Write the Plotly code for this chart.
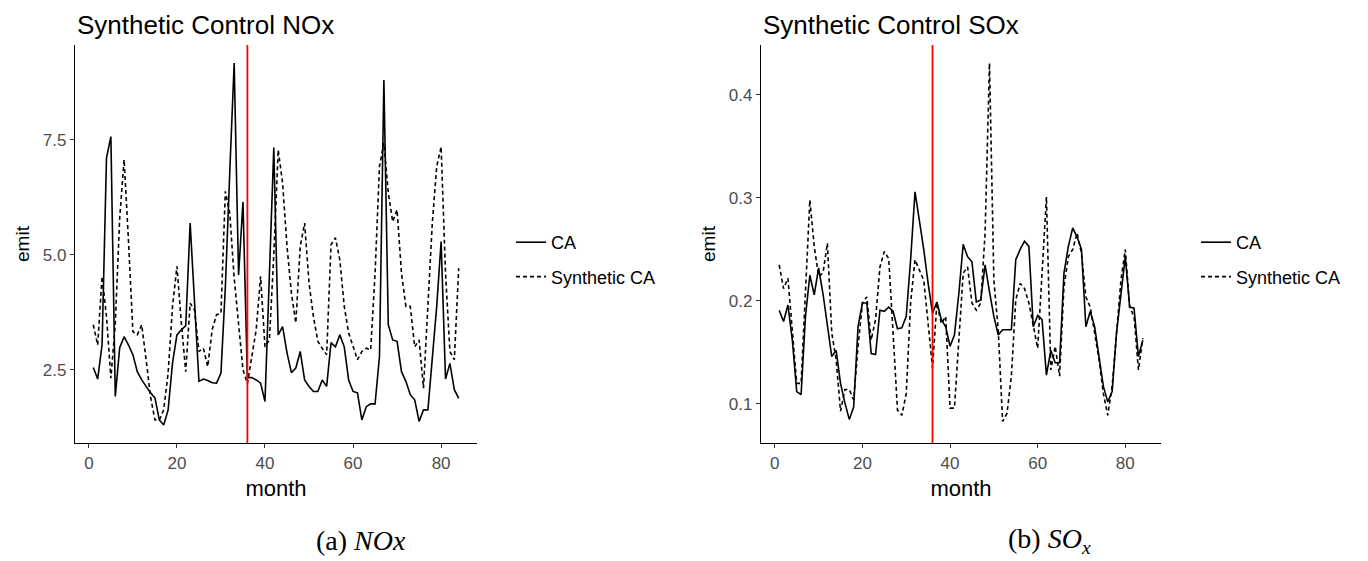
import plotly.graph_objects as go

months = list(range(1, 85))

nox_ca = [2.55, 2.30, 3.05, 7.10, 7.57, 1.92, 2.98, 3.22, 3.04, 2.83,
          2.46, 2.28, 2.14, 2.00, 1.89, 1.41, 1.30, 1.63, 2.65, 3.26,
          3.37, 3.46, 5.69, 3.88, 2.25, 2.30, 2.27, 2.22, 2.21, 2.43,
          4.30, 6.80, 9.17, 4.56, 6.15, 2.33, 2.33, 2.28, 2.21, 1.81,
          4.50, 7.33, 3.26, 3.44, 2.87, 2.44, 2.54, 2.90, 2.28, 2.14,
          2.03, 2.03, 2.28, 2.14, 3.09, 3.00, 3.26, 3.00, 2.28, 2.03,
          2.00, 1.41, 1.70, 1.76, 1.76, 2.79, 8.80, 3.48, 3.15, 3.12,
          2.46, 2.25, 1.96, 1.85, 1.38, 1.63, 1.63, 2.72, 3.88, 5.29,
          2.30, 2.64, 2.07, 1.88]

nox_syn = [3.48, 3.04, 4.53, 3.66, 2.32, 3.50, 5.80, 7.07, 5.30, 3.33,
           3.26, 3.48, 2.72, 1.92, 1.41, 1.41, 1.63, 2.43, 3.88, 4.75,
           3.52, 2.46, 3.95, 3.80, 2.90, 2.97, 2.57, 3.37, 3.70, 3.73,
           6.38, 5.90, 4.50, 3.52, 2.50, 2.20, 2.78, 3.37, 4.53, 3.00,
           3.15, 5.00, 7.28, 6.56, 5.18, 4.17, 3.52, 5.18, 5.69, 4.39,
           3.66, 3.12, 2.97, 2.83, 5.22, 5.37, 4.89, 3.88, 3.30, 3.00,
           2.72, 2.90, 2.97, 2.93, 4.60, 6.92, 7.43, 6.35, 5.72, 5.98,
           4.60, 3.88, 3.88, 3.00, 3.15, 2.10, 3.88, 5.69, 6.92, 7.35,
           4.60, 2.90, 2.72, 4.71]

sox_ca = [0.191, 0.180, 0.196, 0.162, 0.112, 0.109, 0.185, 0.225, 0.206, 0.232,
          0.207, 0.178, 0.146, 0.152, 0.120, 0.101, 0.085, 0.097, 0.175, 0.198,
          0.198, 0.149, 0.148, 0.191, 0.190, 0.194, 0.190, 0.173, 0.174, 0.185,
          0.240, 0.306, 0.279, 0.250, 0.217, 0.188, 0.199, 0.182, 0.175, 0.156,
          0.167, 0.207, 0.255, 0.243, 0.238, 0.199, 0.201, 0.235, 0.209, 0.185,
          0.167, 0.172, 0.172, 0.172, 0.240, 0.250, 0.258, 0.253, 0.175, 0.186,
          0.182, 0.128, 0.152, 0.140, 0.140, 0.227, 0.253, 0.271, 0.262, 0.250,
          0.175, 0.190, 0.175, 0.146, 0.117, 0.102, 0.112, 0.169, 0.207, 0.243,
          0.194, 0.193, 0.146, 0.162]

sox_syn = [0.235, 0.212, 0.222, 0.172, 0.120, 0.120, 0.211, 0.298, 0.253, 0.224,
           0.227, 0.256, 0.169, 0.143, 0.093, 0.114, 0.114, 0.104, 0.156, 0.198,
           0.204, 0.162, 0.182, 0.233, 0.248, 0.241, 0.169, 0.094, 0.089, 0.110,
           0.198, 0.240, 0.230, 0.220, 0.178, 0.135, 0.198, 0.178, 0.185, 0.096,
           0.096, 0.162, 0.227, 0.233, 0.198, 0.191, 0.198, 0.266, 0.431, 0.220,
           0.172, 0.083, 0.091, 0.127, 0.201, 0.217, 0.212, 0.198, 0.175, 0.154,
           0.227, 0.301, 0.133, 0.156, 0.127, 0.214, 0.243, 0.250, 0.266, 0.246,
           0.204, 0.194, 0.169, 0.143, 0.110, 0.089, 0.117, 0.169, 0.220, 0.250,
           0.194, 0.185, 0.133, 0.164]

treat_month = 36
series_names = ["CA", "Synthetic CA"]
titles = ["Synthetic Control NOx", "Synthetic Control SOx"]
captions = ["(a) <i>NOx</i>", "(b) <i>SO<sub>x</sub></i>"]

W, H = 1368, 561
OFF = 8  # page body margin offset


def px(x):
    return (x - OFF) / W


def py(y):
    return (H - (y - OFF)) / H


fig = go.Figure()
DASH = "4px,3px"
SANS = "Liberation Sans, Arial"

for name, vals, dash, lg, xa, ya in [
    (series_names[0], nox_ca, "solid", "legend", "x", "y"),
    (series_names[1], nox_syn, DASH, "legend", "x", "y"),
    (series_names[0], sox_ca, "solid", "legend2", "x2", "y2"),
    (series_names[1], sox_syn, DASH, "legend2", "x2", "y2"),
]:
    fig.add_trace(go.Scatter(x=months, y=vals, mode="lines", name=name,
                             legendgroup=lg + name,
                             line=dict(color="black", width=1.6, dash=dash),
                             xaxis=xa, yaxis=ya, legend=lg))

axis_common = dict(showgrid=False, zeroline=False, showline=True, linecolor="black", linewidth=1.2,
                   ticks="outside", ticklen=4, tickcolor="#333333", tickwidth=1.2,
                   tickfont=dict(family=SANS, size=17, color="#4d4d4d"))

xt = dict(text="month", font=dict(size=22, family=SANS), standoff=9)
yt = dict(text="emit", font=dict(size=19, family=SANS), standoff=8)

fig.update_layout(
    width=W, height=H,
    margin=dict(l=0, r=0, t=0, b=0),
    plot_bgcolor="white", paper_bgcolor="white",
    font=dict(family=SANS, color="black"),
    xaxis=dict(domain=[px(75), px(477)], range=[-3.15, 88.15], anchor="y",
               tickvals=[0, 20, 40, 60, 80], title=xt, **axis_common),
    yaxis=dict(domain=[py(443), py(45)], range=[0.91, 9.56], anchor="x",
               tickvals=[2.5, 5.0, 7.5], ticktext=["2.5", "5.0", "7.5"],
               title=yt, **axis_common),
    xaxis2=dict(domain=[px(761), px(1161)], range=[-3.15, 88.15], anchor="y2",
                tickvals=[0, 20, 40, 60, 80], title=xt, **axis_common),
    yaxis2=dict(domain=[py(443), py(45)], range=[0.0621, 0.4485], anchor="x2",
                tickvals=[0.1, 0.2, 0.3, 0.4], ticktext=["0.1", "0.2", "0.3", "0.4"],
                title=yt, **axis_common),
    legend=dict(x=px(511), y=py(224), xanchor="left", yanchor="top", bgcolor="rgba(0,0,0,0)",
                font=dict(size=18, family=SANS), itemwidth=30, tracegroupgap=8),
    legend2=dict(x=px(1196), y=py(224), xanchor="left", yanchor="top", bgcolor="rgba(0,0,0,0)",
                 font=dict(size=18, family=SANS), itemwidth=30, tracegroupgap=8),
    showlegend=True,
)

for xr, yr in [("x", "y"), ("x2", "y2")]:
    fig.add_shape(type="line", xref=xr, yref=yr + " domain",
                  x0=treat_month, x1=treat_month, y0=0, y1=1,
                  line=dict(color="red", width=1.8))

for i, x0 in enumerate([76, 762]):
    fig.add_annotation(text=titles[i], x=px(x0), y=py(25), xref="paper", yref="paper",
                       xanchor="left", yanchor="middle", showarrow=False, borderpad=0,
                       font=dict(size=26, color="black", family=SANS))

for i, xc in enumerate([361, 1049]):
    fig.add_annotation(text=captions[i], x=px(xc), y=py(540), xref="paper", yref="paper",
                       xanchor="center", yanchor="middle", showarrow=False,
                       font=dict(size=28, color="black", family="Liberation Serif, DejaVu Serif, serif"))

fig.write_html("out.html")
